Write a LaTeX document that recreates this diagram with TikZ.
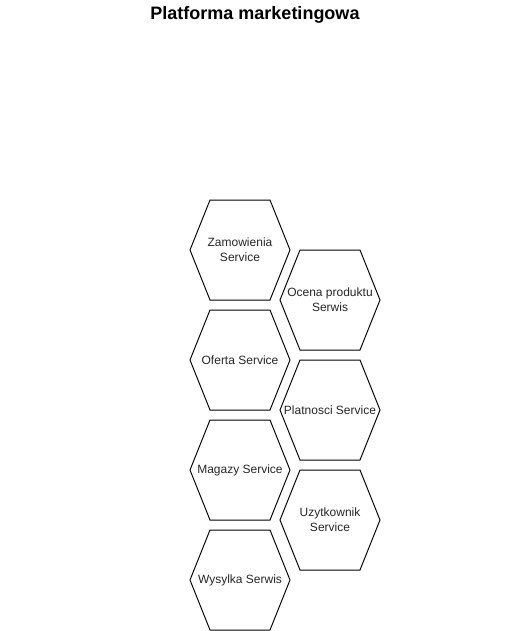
\documentclass[tikz,border=0pt]{standalone}
\usepackage{fontspec}
\setmainfont{Liberation Sans}
\usetikzlibrary{calc}
\tikzset{
  hexlabel/.style={align=center, inner sep=0pt, font=\fontsize{12}{15}\selectfont, text=black!85},
  hexline/.style={draw=black, line width=1pt, line join=miter},
  titlestyle/.style={font=\fontsize{18}{22}\selectfont\bfseries, inner sep=0pt}
}
\newcommand{\hexat}[4]{%
  \node[hexlabel] (#1) at (#2,#3) {#4};
  \draw[hexline] ($(#1.center)+(-50,0)$) -- ++(20,-50) -- ++(60,0) -- ++(20,50) -- ++(-20,50) -- ++(-60,0) -- cycle;
}
\begin{document}
\begin{tikzpicture}[x=1pt,y=-1pt]
\useasboundingbox (0,0) rectangle (511,631);
\node[titlestyle] (title) at (255,15) {Platforma marketingowa};
\hexat{zam}{240}{250}{Zamowienia\\Service}
\hexat{ofe}{240}{360}{Oferta Service}
\hexat{mag}{240}{470}{Magazy Service}
\hexat{wys}{240}{580}{Wysylka Serwis}
\hexat{oce}{330}{300}{Ocena produktu\\Serwis}
\hexat{pla}{330}{410}{Platnosci Service}
\hexat{uzy}{330}{520}{Uzytkownik\\Service}
\end{tikzpicture}
\end{document}
